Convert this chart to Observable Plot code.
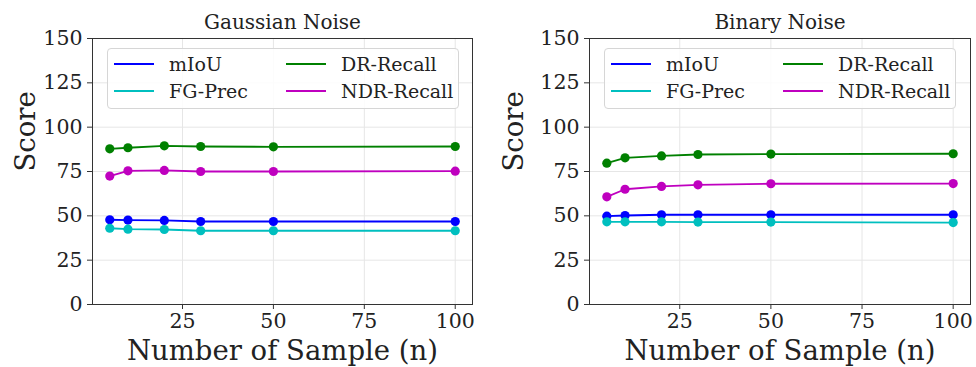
<!DOCTYPE html>
<html><head><meta charset="utf-8">
<script src="https://cdn.jsdelivr.net/npm/d3@7"></script>
<script src="https://cdn.jsdelivr.net/npm/@observablehq/plot@0.6"></script>
<style>
body{margin:0;background:#fff;font-family:"DejaVu Serif",serif;}
#wrap{position:relative;width:976px;height:367px;overflow:hidden;}
.panel{position:absolute;top:0;width:488px;height:367px;}
.legend{position:absolute;top:48px;height:61px;width:352px;border:1px solid #d6d6d6;border-radius:4px;background:rgba(255,255,255,0.85);box-sizing:border-box;}
.item{position:absolute;display:flex;align-items:center;font-size:19px;color:#222;line-height:1;}
.swatch{width:40px;height:0;border-top:2px solid;margin-right:15px;}
</style>
</head><body>
<div id="wrap"></div>
<script>
const samples = [5, 10, 20, 30, 50, 100];
const seriesNames = ["mIoU", "FG-Prec", "DR-Recall", "NDR-Recall"];
const seriesColors = ["#0000ff", "#00bfbf", "#008000", "#bf00bf"];
const panelTitles = ["Gaussian Noise", "Binary Noise"];
const xTicks = [25, 50, 75, 100];
const yTicks = [0, 25, 50, 75, 100, 125, 150];
const xLabel = "Number of Sample (n)";
const yLabel = "Score";

// Gaussian Noise
const gaussMIoU   = [47.8, 47.6, 47.4, 46.8, 46.8, 46.8];
const gaussFGPrec = [43.0, 42.5, 42.3, 41.6, 41.6, 41.6];
const gaussDR     = [87.8, 88.4, 89.5, 89.1, 88.9, 89.1];
const gaussNDR    = [72.4, 75.4, 75.6, 75.0, 75.0, 75.2];
// Binary Noise
const binMIoU     = [49.8, 50.2, 50.6, 50.6, 50.6, 50.6];
const binFGPrec   = [46.6, 46.6, 46.6, 46.5, 46.5, 46.2];
const binDR       = [79.7, 82.7, 83.8, 84.6, 84.8, 85.0];
const binNDR      = [60.7, 65.0, 66.6, 67.5, 68.1, 68.2];

function toRows(seriesValues) {
  const rows = [];
  seriesValues.forEach((vals, si) => {
    vals.forEach((v, i) => rows.push({series: seriesNames[si], n: samples[i], score: v}));
  });
  return rows;
}

const panels = [
  {title: panelTitles[0], rows: toRows([gaussMIoU, gaussFGPrec, gaussDR, gaussNDR]), left: 0, ml: 92, mr: 16},
  {title: panelTitles[1], rows: toRows([binMIoU, binFGPrec, binDR, binNDR]), left: 488, ml: 101, mr: 6}
];

const wrap = document.getElementById("wrap");

panels.forEach(p => {
  const div = document.createElement("div");
  div.className = "panel";
  div.style.left = p.left + "px";
  const chart = Plot.plot({
    width: 488, height: 367,
    marginLeft: p.ml, marginRight: p.mr, marginTop: 38, marginBottom: 63,
    style: {fontFamily: "DejaVu Serif", background: "white", color: "#222", overflow: "visible"},
    x: {domain: [0.25, 104.75]},
    y: {domain: [0, 150]},
    color: {domain: seriesNames, range: seriesColors},
    marks: [
      Plot.gridX(xTicks, {stroke: "#e6e6e6", strokeOpacity: 1}),
      Plot.gridY(yTicks, {stroke: "#e6e6e6", strokeOpacity: 1}),
      Plot.line(p.rows, {x: "n", y: "score", stroke: "series", strokeWidth: 1.8}),
      Plot.dot(p.rows, {x: "n", y: "score", fill: "series", r: 4.6}),
      Plot.frame({stroke: "#333", strokeWidth: 1}),
      Plot.axisX(xTicks, {tickSize: 5, tickPadding: 4, fontSize: 20.5, label: null, stroke: "#333"}),
      Plot.axisY(yTicks, {tickSize: 5, tickPadding: 5, fontSize: 20.5, label: null, stroke: "#333"}),
      Plot.text([p.title], {text: d => d, frameAnchor: "top", dy: -16, fontSize: 20, lineAnchor: "middle", fill: "#222"}),
      Plot.text([xLabel], {text: d => d, frameAnchor: "bottom", dy: 47, fontSize: 27.5, lineAnchor: "middle", fill: "#222"}),
      Plot.text([yLabel], {text: d => d, frameAnchor: "left", dx: -(p.ml - 26), rotate: -90, fontSize: 27.5, lineAnchor: "middle", fill: "#222"})
    ]
  });
  div.appendChild(chart);

  // legend
  const leg = document.createElement("div");
  leg.className = "legend";
  leg.style.left = (p.ml + 15) + "px";
  [0, 1, 2, 3].forEach(si => {
    const col = si < 2 ? 0 : 1;
    const row = si % 2;
    const it = document.createElement("div");
    it.className = "item";
    it.style.left = (col === 0 ? 6 : 178) + "px";
    it.style.top = (row === 0 ? 5 : 32) + "px";
    it.style.height = "20px";
    const sw = document.createElement("span");
    sw.className = "swatch";
    sw.style.borderTopColor = seriesColors[si];
    const tx = document.createElement("span");
    tx.textContent = seriesNames[si];
    it.appendChild(sw); it.appendChild(tx);
    leg.appendChild(it);
  });
  div.appendChild(leg);
  wrap.appendChild(div);
});
</script>
</body></html>
